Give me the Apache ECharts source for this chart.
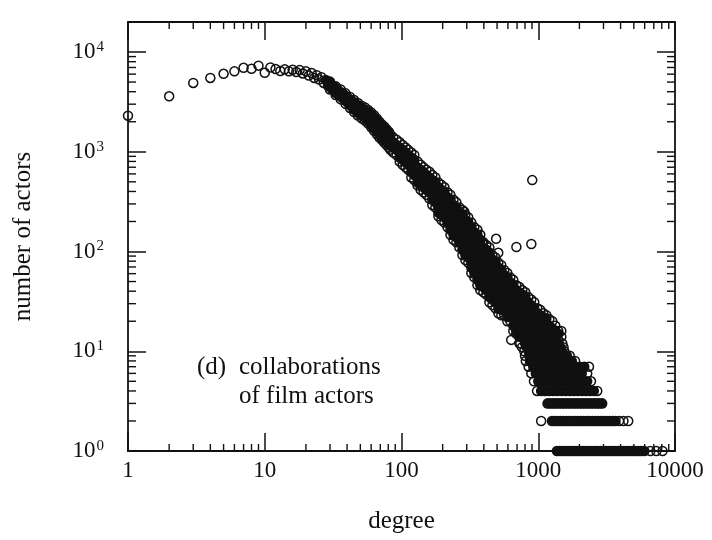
<!DOCTYPE html>
<html>
<head>
<meta charset="utf-8">
<script src="https://cdn.jsdelivr.net/npm/echarts@6.0.0/dist/echarts.min.js"></script>
<style>
  html, body { margin: 0; background: #fff; }
  #chart { width: 712px; height: 540px; }
</style>
</head>
<body>
<div id="chart"></div>
<script>
// number of actors for degree 1, 2, 3 ... 82 (one point per degree)
var lowDegreeCounts = [
  2300, 3600, 4900, 5500, 6050, 6400, 6950, 6800, 7300, 6200, 7000,
  6750, 6450, 6700, 6400, 6650, 6300, 6600, 6100, 6400, 5800,
  6150, 5500, 5850, 5300, 5600, 4900, 5250, 4600, 4950, 4250,
  4550, 3900, 4250, 3650, 3950, 3450, 3750, 3250, 3550, 3050,
  3350, 2850, 3200, 2650, 3050, 2550, 2900, 2400, 2800, 2330,
  2700, 2250, 2600, 2200, 2150, 2500, 2000, 2400, 1880, 2300,
  1750, 2150, 1700, 2100, 1620, 2000, 1550, 1900, 1450, 1820,
  1400, 1750, 1350, 1700, 1300, 1620, 1250, 1560, 1200, 1500, 1170
]

// a few more points sitting in the middle of the band, degree 44-81
var lowDegreeExtra = [
  [44, 2950], [47, 2750], [50, 2550], [52, 2450], [55, 2370], [57, 2250],
  [60, 2100], [62, 1990], [65, 1850], [67, 1760], [70, 1640], [72, 1570],
  [75, 1480], [77, 1420], [79, 1360], [81, 1300]
]

// upper and lower edge of the band, degree 30-81
var edgeDegrees = [30, 33, 36, 39, 42, 45, 48, 51, 54, 57, 60, 63, 66, 69, 72, 75, 78, 81]
var edgeUpper = [5050, 4550, 4200, 3850, 3550, 3300, 3080, 2900, 2780, 2630, 2480, 2320, 2160, 2000, 1880, 1780, 1670, 1580]
var edgeLower = [4200, 3700, 3350, 3020, 2750, 2500, 2310, 2170, 2060, 1920, 1760, 1620, 1500, 1390, 1310, 1230, 1160, 1100]

// dense band: degree -> counts seen at that degree
var bandColumns = [
  [83, [1480, 1320, 1170, 1045]],
  [87, [1395, 1245, 1105, 985]],
  [92, [1320, 1170, 1045, 930]],
  [97, [1245, 1105, 985, 877, 800]],
  [102, [1170, 1045, 930, 830, 740]],
  [107, [1105, 985, 877, 783, 698]],
  [112, [1045, 930, 830, 740, 660]],
  [118, [985, 877, 783, 698, 622, 553]],
  [124, [930, 830, 740, 660, 586, 522]],
  [131, [800, 698, 622, 553, 492, 460]],
  [138, [740, 660, 586, 522, 466, 415]],
  [145, [698, 622, 553, 492, 440, 392]],
  [152, [660, 586, 522, 466, 415, 370]],
  [160, [630, 553, 492, 440, 392, 340]],
  [168, [586, 522, 466, 415, 370, 330, 293]],
  [177, [553, 492, 440, 392, 349, 311, 276]],
  [186, [492, 440, 392, 349, 311, 276, 246, 226]],
  [196, [466, 415, 370, 330, 293, 261, 233, 207]],
  [206, [440, 392, 349, 311, 276, 246, 220, 195]],
  [217, [392, 349, 311, 276, 246, 220, 195, 175]],
  [228, [370, 330, 293, 261, 233, 207, 185, 165, 147]],
  [240, [330, 293, 261, 233, 207, 185, 165, 147, 131]],
  [252, [311, 276, 246, 220, 195, 175, 156, 139, 124]],
  [265, [276, 246, 220, 195, 175, 156, 139, 124, 110]],
  [279, [261, 233, 207, 185, 165, 147, 131, 116, 104, 92]],
  [293, [233, 207, 185, 165, 147, 131, 116, 104, 92, 82]],
  [308, [220, 195, 175, 156, 139, 124, 110, 98, 87, 77]],
  [324, [195, 175, 156, 139, 124, 110, 98, 87, 77, 69, 61]],
  [341, [175, 156, 139, 124, 110, 98, 87, 77, 69, 61, 55]],
  [359, [165, 147, 131, 116, 104, 92, 82, 73, 65, 58, 52, 46]],
  [377, [147, 131, 116, 104, 92, 82, 73, 65, 58, 52, 46, 41]],
  [397, [124, 110, 98, 87, 77, 69, 61, 55, 49, 44, 39]],
  [417, [116, 104, 92, 82, 73, 65, 58, 52, 46, 41, 37]],
  [439, [110, 98, 87, 77, 69, 61, 55, 49, 44, 39, 35, 31]],
  [462, [92, 82, 73, 65, 58, 52, 46, 41, 37, 33, 29]],
  [486, [87, 77, 69, 61, 55, 49, 44, 39, 35, 31, 27]],
  [511, [77, 69, 61, 55, 49, 44, 39, 35, 31, 27, 24]],
  [537, [73, 65, 58, 52, 46, 41, 37, 33, 29, 26, 23]],
  [565, [65, 58, 52, 46, 41, 37, 33, 29, 26, 23]],
  [594, [61, 55, 49, 44, 39, 35, 31, 27, 24, 22, 20]],
  [625, [55, 49, 44, 39, 35, 31, 27, 24, 22, 20]],
  [657, [52, 46, 41, 37, 33, 29, 26, 23, 21, 18, 16]],
  [691, [46, 41, 37, 33, 29, 26, 23, 21, 18, 16, 15]],
  [727, [44, 39, 35, 31, 27, 24, 22, 20, 17, 15, 14, 12]],
  [765, [41, 37, 33, 29, 26, 23, 21, 18, 16, 15]],
  [804, [39, 35, 31, 27, 24, 22, 20, 17, 15, 14]],
  [845, [35, 31, 27, 24, 22, 20, 17, 15, 14]],
  [889, [33, 29, 26, 23, 21, 18, 16, 15, 13]],
  [935, [31, 27, 24, 22, 20, 17, 15, 14, 12]],
  [983, [27, 24, 22, 20, 17, 15, 14]],
  [1035, [26, 23, 21, 18, 16, 15, 13]],
  [1088, [24, 22, 20, 17, 15, 14]],
  [1145, [23, 21, 18, 16, 15, 13]],
  [1204, [21, 18, 16, 15, 13]],
  [1267, [20, 17, 15, 14]],
  [1333, [18, 16, 15, 13]],
  [1402, [16, 15, 13]],
  [1475, [16, 14]]
]

// small counts: count -> degrees that have it
var tailLevels = [
  [12, [740, 800, 860, 920, 990, 1060, 1140, 1220, 1310, 1400, 1500]],
  [11, [760, 820, 880, 950, 1020, 1090, 1170, 1260, 1350, 1450, 1530]],
  [10, [790, 850, 910, 980, 1050, 1130, 1210, 1300, 1390, 1490, 1550]],
  [9, [800, 860, 930, 1000, 1070, 1150, 1230, 1320, 1420, 1520, 1620, 1700]],
  [8, [811, 870, 940, 1010, 1080, 1160, 1250, 1340, 1440, 1550, 1660, 1760, 1860]],
  [7, [850, 920, 990, 1060, 1140, 1220, 1310, 1400, 1500, 1610, 1730, 1860, 2000, 2170, 2350]],
  [6, [890, 960, 1030, 1100, 1180, 1270, 1360, 1460, 1570, 1680, 1800, 1930, 2080, 2280]],
  [5, [930, 1000, 1070, 1150, 1230, 1320, 1410, 1510, 1620, 1740, 1860, 2000, 2140, 2280, 2430]],
  [4, [980, 1050, 1120, 1200, 1290, 1380, 1480, 1590, 1700, 1820, 1950, 2090, 2240, 2400, 2550, 2700]]
]

// the three solid rows at the bottom (count 3, 2, 1)
var rowThree = [1170, 1230, 1290, 1350, 1420, 1490, 1560, 1640, 1720, 1810, 1900, 2000, 2100,
  2200, 2310, 2430, 2550, 2680, 2800, 2930]
var rowTwo = [1260, 1320, 1390, 1460, 1530, 1610, 1690, 1770, 1860, 1950, 2050, 2150, 2260,
  2370, 2490, 2610, 2740, 2880, 3020, 3170, 3330, 3500, 3670]
var rowOne = [1370, 1440, 1510, 1590, 1670, 1750, 1840, 1930, 2030, 2130, 2240, 2350, 2470,
  2590, 2720, 2860, 3000, 3150, 3310, 3480, 3650, 3830, 4020, 4220, 4430, 4650, 4880, 5120,
  5380, 5650, 5970]

// lone circles
var outliers = [
  [288, 250], [390, 122], [492, 134], [510, 97], [692, 111], [890, 119], [904, 520],
  [634, 13], [1050, 2], [3900, 2], [4200, 2], [4550, 2], [6600, 1], [7300, 1], [8100, 1]
]

var xTickLabels = [1, 10, 100, 1000, 10000]
var decades = [1, 10, 100, 1000]
var minorSteps = [2, 3, 4, 5, 6, 7, 8, 9]

var serif = '"Liberation Serif", "DejaVu Serif", serif'
var ink = '#111'

// build the point lists: every point gets a ring, points inside the band
// also get a filled disc underneath so the dense part reads solid
var ringData = []
var fillData = []
lowDegreeCounts.forEach(function (n, i) {
  ringData.push([i + 1, n])
  if (i + 1 >= 28) fillData.push([i + 1, n])
})
lowDegreeExtra.forEach(function (p) { ringData.push(p); fillData.push(p) })
edgeDegrees.forEach(function (k, i) {
  ringData.push([k, edgeUpper[i]])
  ringData.push([k, edgeLower[i]])
})
bandColumns.forEach(function (c) {
  c[1].forEach(function (n, j) {
    ringData.push([c[0], n])
    if (j > 0 && j < c[1].length - 1) fillData.push([c[0], n])
  })
})
tailLevels.forEach(function (l) {
  l[1].forEach(function (k, j) {
    ringData.push([k, l[0]])
    if (j > 0 && j < l[1].length - 1) fillData.push([k, l[0]])
  })
})
outliers.forEach(function (p) { ringData.push(p) })

var rowData = []
rowThree.forEach(function (k) { rowData.push([k, 3]) })
rowTwo.forEach(function (k) { rowData.push([k, 2]) })
rowOne.forEach(function (k) { rowData.push([k, 1]) })

var minorX = []
var minorY = []
decades.forEach(function (d) {
  minorSteps.forEach(function (m) {
    minorX.push([m * d, 1])
    minorY.push([1, m * d])
  })
})

function drawMinorX (params, api) {
  var cs = params.coordSys
  var x = api.coord([api.value(0), 1])[0]
  var bottom = cs.y + cs.height
  var st = { stroke: ink, lineWidth: 1.4 }
  return {
    type: 'group',
    children: [
      { type: 'line', shape: { x1: x, y1: bottom, x2: x, y2: bottom - 7 }, style: st },
      { type: 'line', shape: { x1: x, y1: cs.y, x2: x, y2: cs.y + 7 }, style: st },
    ],
  }
}

function drawMinorY (params, api) {
  var cs = params.coordSys
  var y = api.coord([1, api.value(1)])[1]
  var right = cs.x + cs.width
  var st = { stroke: ink, lineWidth: 1.4 }
  return {
    type: 'group',
    children: [
      { type: 'line', shape: { x1: cs.x, y1: y, x2: cs.x + 8, y2: y }, style: st },
      { type: 'line', shape: { x1: right, y1: y, x2: right - 8, y2: y }, style: st },
    ],
  }
}

function axisBase () {
  return {
    type: 'log',
    logBase: 10,
    axisLine: { show: true, onZero: false, lineStyle: { color: ink, width: 1.8 } },
    axisTick: { show: true, inside: true, length: 18, lineStyle: { color: ink, width: 1.5 } },
    splitLine: { show: false },
    minorTick: { show: false },
  }
}

var xBottom = Object.assign(axisBase(), {
  position: 'bottom',
  min: 1,
  max: 10000,
  name: 'degree',
  nameLocation: 'middle',
  nameGap: 58,
  nameTextStyle: { fontFamily: serif, fontSize: 25, color: ink },
  axisLabel: {
    margin: 8,
    fontFamily: serif,
    fontSize: 23,
    color: ink,
    formatter: function (v) {
      var r = Math.round(v)
      return xTickLabels.indexOf(r) >= 0 ? String(r) : ''
    },
  },
})
var xTop = Object.assign(axisBase(), {
  position: 'top',
  min: 1,
  max: 10000,
  axisLabel: { show: false },
})
var yLeft = Object.assign(axisBase(), {
  position: 'left',
  min: 1,
  max: 20000,
  name: 'number of actors',
  nameLocation: 'middle',
  nameGap: 92,
  nameTextStyle: { fontFamily: serif, fontSize: 25, color: ink },
  axisLabel: {
    margin: 24,
    fontFamily: serif,
    fontSize: 23,
    color: ink,
    formatter: function (v) {
      var e = Math.log10(v)
      var r = Math.round(e)
      if (Math.abs(e - r) > 1e-6) return ''
      return '10{sup|' + r + '}'
    },
    rich: {
      sup: { fontFamily: serif, fontSize: 15, color: ink, verticalAlign: 'top', padding: [0, 0, 10, 1] },
    },
  },
})
var yRight = Object.assign(axisBase(), {
  position: 'right',
  min: 1,
  max: 20000,
  axisLabel: { show: false },
})

var chart = echarts.init(document.getElementById('chart'))
chart.setOption({
  animation: false,
  backgroundColor: '#fff',
  grid: { left: 128, right: 37, top: 22, bottom: 89 },
  xAxis: [xBottom, xTop],
  yAxis: [yLeft, yRight],
  graphic: [
    { type: 'text', left: 197, top: 355, style: { text: '(d)', font: '25px ' + serif, fill: ink } },
    { type: 'text', left: 239, top: 355, style: { text: 'collaborations', font: '25px ' + serif, fill: ink } },
    { type: 'text', left: 239, top: 384, style: { text: 'of film actors', font: '25px ' + serif, fill: ink } },
  ],
  series: [
    {
      type: 'scatter',
      name: 'rows',
      data: rowData,
      clip: false,
      symbol: 'circle',
      symbolSize: 10.6,
      itemStyle: { color: ink, opacity: 1 },
      emphasis: { disabled: true },
      silent: true,
    },
    {
      type: 'scatter',
      name: 'band',
      data: fillData,
      clip: false,
      symbol: 'circle',
      symbolSize: 9,
      itemStyle: { color: ink, opacity: 1 },
      emphasis: { disabled: true },
      silent: true,
    },
    {
      type: 'scatter',
      name: 'actors',
      data: ringData,
      clip: false,
      symbol: 'circle',
      symbolSize: 9,
      itemStyle: { color: 'rgba(0,0,0,0)', borderColor: ink, borderWidth: 1.5, opacity: 1 },
      emphasis: { disabled: true },
      silent: true,
    },
    {
      type: 'custom',
      data: minorX,
      renderItem: drawMinorX,
      silent: true,
      z: 5,
    },
    {
      type: 'custom',
      data: minorY,
      renderItem: drawMinorY,
      silent: true,
      z: 5,
    },
  ],
})
</script>
</body>
</html>
